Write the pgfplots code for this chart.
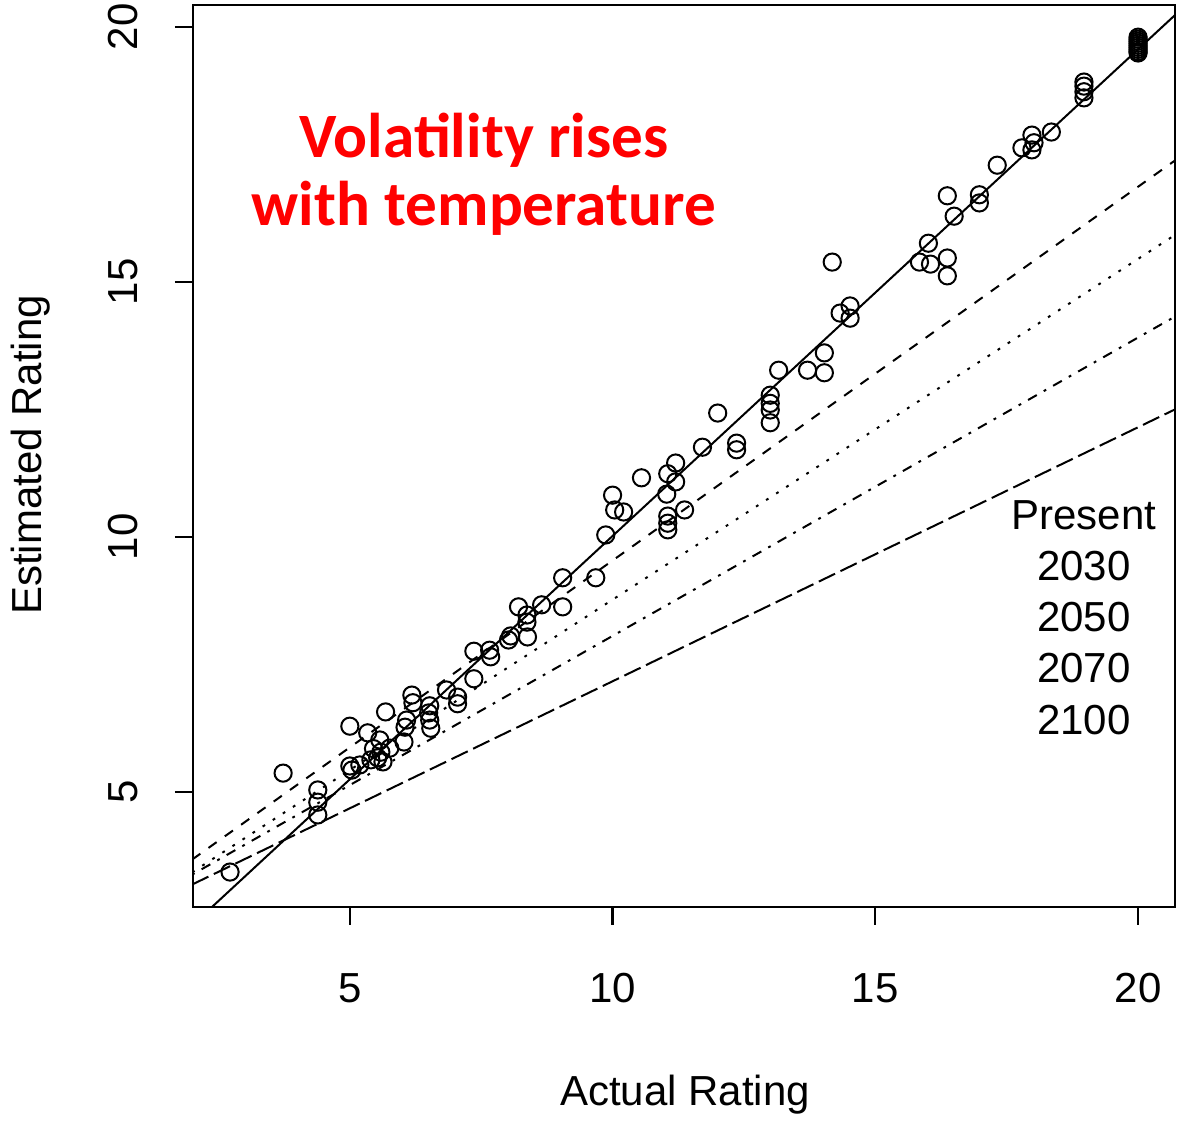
\documentclass[border=0pt]{standalone}
\usepackage{fontspec}
\setmainfont{Liberation Sans}
\newfontfamily\carlito{Carlito}
\usepackage{pgfplots}
\pgfplotsset{compat=1.18}
\begin{document}
\begin{tikzpicture}
\begin{axis}[name=ax,
  scale only axis, width=245.5pt, height=225.5pt,
  xmin=2.015, xmax=20.703, ymin=2.745, ymax=20.431,
  axis line style={line width=0.55pt},
  xtick={5,10,15,20}, ytick={5,10,15,20},
  tick align=outside, tick pos=left,
  major tick length=4.5pt,
  every tick/.style={black, line width=0.55pt},
  /pgf/number format/assume math mode=true,
  ticklabel style={font=\fontsize{10.5}{12}\selectfont},
  xticklabel style={anchor=north, yshift=-8.5pt},
  yticklabel style={rotate=90, anchor=south, yshift=5.75pt},
  xlabel={Actual Rating}, ylabel={Estimated Rating},
  label style={font=\fontsize{10.5}{12}\selectfont},
  xlabel style={at={(axis description cs:0.501,-0.2084)}, anchor=center},
  ylabel style={at={(axis description cs:-0.165,0.501)}, anchor=center},
  clip=true,
]
\addplot[only marks, mark=o, mark size=2.15pt, mark options={line width=0.5pt}] coordinates {
(2.72,3.43) (3.73,5.37) (4.39,5.04) (4.39,4.55) (4.39,4.80)
(5.00,6.29) (5.00,5.51) (5.04,5.43) (5.19,5.53) (5.34,6.16) (5.40,5.63)
(5.57,6.02) (5.59,5.78) (5.63,5.59) (5.68,6.57) (5.76,5.86) (5.53,5.67) (5.45,5.85)
(6.03,5.98) (6.05,6.27) (6.08,6.41) (6.18,6.90) (6.20,6.75) (6.52,6.69) (6.52,6.41)
(6.54,6.25) (6.50,6.55) (6.84,7.00) (7.05,6.86) (7.05,6.73) (7.36,7.76) (7.36,7.22)
(7.66,7.78) (7.68,7.65) (8.02,7.98) (8.06,8.06) (8.21,8.63) (8.37,8.47) (8.37,8.33)
(8.38,8.04) (8.65,8.67) (9.05,9.20) (9.05,8.63) (9.68,9.20) (9.87,10.04) (10.00,10.82)
(10.04,10.53) (10.21,10.49) (10.55,11.16) (11.03,10.84) (11.05,11.24) (11.05,10.41)
(11.05,10.27) (11.05,10.14) (11.20,11.45) (11.20,11.08) (11.37,10.53) (11.71,11.76)
(12.00,12.43) (12.36,11.84) (12.36,11.71) (13.00,12.78) (13.00,12.49) (13.00,12.24)
(13.00,12.62) (13.16,13.27) (13.71,13.27) (14.03,13.61) (14.03,13.22) (14.18,15.39)
(14.33,14.39) (14.52,14.53) (14.52,14.29) (15.84,15.39) (16.01,15.76) (16.05,15.35)
(16.37,16.69) (16.37,15.47) (16.37,15.12) (16.50,16.29) (16.98,16.71) (16.98,16.55)
(17.32,17.29) (17.79,17.63) (17.98,17.88) (17.98,17.59) (18.02,17.73) (18.35,17.94)
(18.97,18.92) (18.97,18.84) (18.97,18.73) (18.97,18.61)
(20,19.80) (20,19.76) (20,19.72) (20,19.68) (20,19.64) (20,19.60) (20,19.56) (20,19.52) (20,19.49)
};
% Present
\addplot[black, line width=0.5pt] coordinates {(2,2.386) (20.7,20.23)};
% 2030
\addplot[black, line width=0.5pt, dash pattern=on 2.5pt off 2.5pt] coordinates {(2,3.676) (20.7,17.38)};
% 2050
\addplot[black, line width=0.5pt, dash pattern=on 0.7pt off 2.3pt] coordinates {(2,3.426) (20.7,15.92)};
% 2070
\addplot[black, line width=0.5pt, dash pattern=on 0.7pt off 2pt on 2.5pt off 2pt] coordinates {(2,3.38) (20.7,14.32)};
% 2100
\addplot[black, line width=0.5pt, dash pattern=on 4.5pt off 1.5pt] coordinates {(2,3.186) (20.7,12.50)};
\node[font=\fontsize{10.5}{12}\selectfont] at (axis cs:18.97,10.43) {Present};
\node[font=\fontsize{10.5}{12}\selectfont] at (axis cs:18.97,9.43) {2030};
\node[font=\fontsize{10.5}{12}\selectfont] at (axis cs:18.97,8.43) {2050};
\node[font=\fontsize{10.5}{12}\selectfont] at (axis cs:18.97,7.43) {2070};
\node[font=\fontsize{10.5}{12}\selectfont] at (axis cs:18.97,6.41) {2100};
\node[text=red, align=center, font=\carlito\bfseries\fontsize{15.8}{17}\selectfont] at (axis cs:7.55,17.12) {Volatility rises\\with temperature};
\end{axis}
\pgfresetboundingbox
\path (ax.south west) ++(-48.25pt,-53.5pt) rectangle ++(294.5pt,280.25pt);
\end{tikzpicture}
\end{document}
